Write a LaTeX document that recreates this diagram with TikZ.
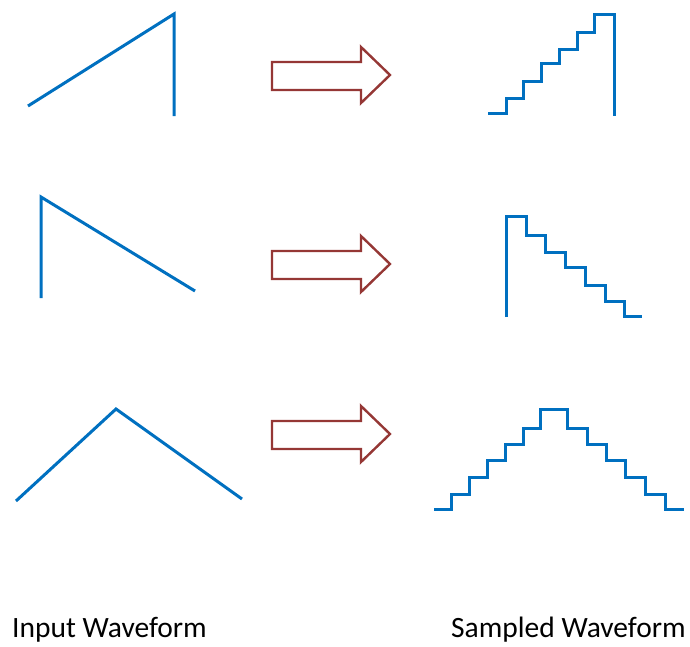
\documentclass[tikz,border=0pt]{standalone}
\usepackage{fontspec}
\setmainfont{Carlito}
\definecolor{waveblue}{HTML}{0070C0}
\definecolor{arrowred}{HTML}{953735}
\tikzset{
  wave/.style={draw=waveblue, line width=3pt, line join=miter},
  bigarrow/.style={draw=arrowred, line width=2.4pt, fill=white, line join=miter},
  caption/.style={font=\fontsize{29.5}{34}\selectfont, anchor=base west, inner sep=0pt}
}
\begin{document}
\begin{tikzpicture}[x=1pt, y=-1pt]
\useasboundingbox (0,0) rectangle (690,646);

% Input waveforms
\draw[wave] (28,106) -- (174,14) -- (174,116);
\draw[wave] (41,298) -- (41,197) -- (195,291);
\draw[wave] (16,501) -- (116,409) -- (242,499);

% Block arrows
\foreach \cy in {75,264,434}{
  \draw[bigarrow] (272,\cy-13) -- (361,\cy-13) -- (361,\cy-28) -- (390,\cy)
    -- (361,\cy+28) -- (361,\cy+15) -- (272,\cy+15) -- cycle;
}

% Sampled waveforms
\draw[wave] (488,113) -- (506,113) |- (523,98) |- (541,81) |- (559,63)
  |- (577,49) |- (594,32) |- (614,14) -- (614,116);
\draw[wave] (506,317) -- (506,216) -| (526,235) -| (545,252) -| (565,267)
  -| (585,285) -| (605,301) -| (624,316) -- (642,316);
\draw[wave] (434,509) -- (451,509) |- (469,494) |- (487,477) |- (505,460)
  |- (523,444) |- (540,428) |- (567,409) |- (587,428)
  |- (606,444) |- (625,460) |- (645,477) |- (665,494) |- (684,509);

% Captions
\node[caption] (inp) at (12,637) {Input Waveform};
\node[caption] (smp) at (451,637) {Sampled Waveform};
\end{tikzpicture}
\end{document}
